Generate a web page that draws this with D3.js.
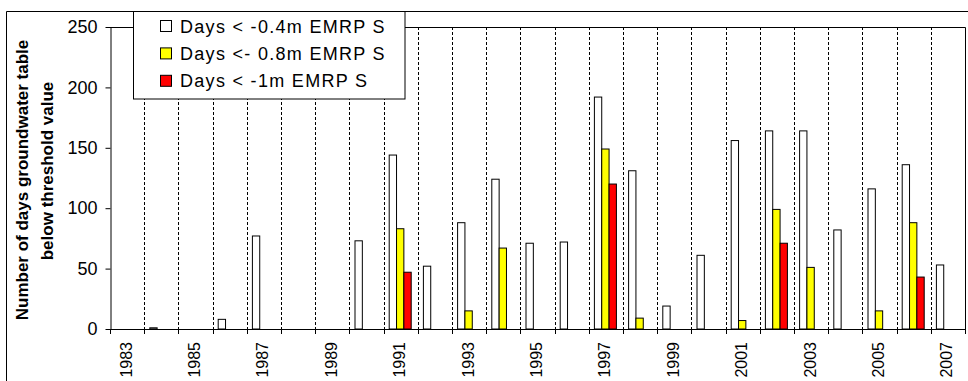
<!DOCTYPE html>
<html><head><meta charset="utf-8">
<script src="https://cdn.jsdelivr.net/npm/d3@7"></script>
<style>
html,body{margin:0;padding:0;background:#fff;}
svg{display:block;font-family:"Liberation Sans",Arial,sans-serif;}
</style></head>
<body><svg id="c" width="968" height="381"></svg>
<script>
const years = ["1983","1984","1985","1986","1987","1988","1989","1990","1991","1992","1993","1994","1995","1996","1997","1998","1999","2000","2001","2002","2003","2004","2005","2006","2007"];
const days04 = [0,1,0,8,77,0,0,73,144,52,88,124,71,72,192,131,19,61,156,164,164,82,116,136,53];
const days08 = [0,0,0,0,0,0,0,0,83,0,15,67,0,0,149,9,0,0,7,99,51,0,15,88,0];
const days10 = [0,0,0,0,0,0,0,0,47,0,0,0,0,0,120,0,0,0,0,71,0,0,0,43,0];
const seriesNames = ["Days < -0.4m EMRP S","Days <- 0.8m EMRP S","Days < -1m EMRP S"];
const seriesColors = ["#ffffff","#ffff00","#ff0000"];
const yTicks = [0,50,100,150,200,250];

const svg = d3.select("#c");
const L=110, R=965, T=27, B=329;
const x = d3.scaleBand().domain(years).range([L,R]).padding(0);
const x1 = d3.scaleBand().domain([0,1,2]).range([5.6,27.6]).padding(0);
const y = d3.scaleLinear().domain([0,250]).range([B,T]);

// outer frame
svg.append("path").attr("d","M6.5,390V11.5H975").attr("fill","none").attr("stroke","#000").attr("stroke-width",1);

// plot frame (top and right)
svg.append("path").attr("d",`M${L},${T+0.5}H${R+0.5}V${B}`).attr("fill","none").attr("stroke","#000").attr("stroke-width",1);

// dashed gridlines at category boundaries
const bounds = years.slice(1).map(d=>x(d));
svg.append("g").selectAll("line").data(bounds).join("line")
  .attr("x1",d=>Math.round(d)+0.5).attr("x2",d=>Math.round(d)+0.5)
  .attr("y1",T).attr("y2",B)
  .attr("stroke","#000").attr("stroke-width",1).attr("stroke-dasharray","3,2");

// bars
const series = [days04, days08, days10];
const gBars = svg.append("g");
series.forEach((vals,si)=>{
  gBars.selectAll(null).data(vals.map((v,i)=>({v,yr:years[i]})).filter(d=>d.v>0)).join("rect")
    .attr("x",d=>x(d.yr)+x1(si)).attr("width",x1.bandwidth())
    .attr("y",d=>y(d.v)).attr("height",d=>y(0)-y(d.v))
    .attr("fill",seriesColors[si]).attr("stroke","#000").attr("stroke-width",1);
});

// y axis
const ya = svg.append("g").attr("transform",`translate(${L+0.5},0)`)
  .call(d3.axisLeft(y).tickValues(yTicks).tickSize(5).tickPadding(8).tickSizeOuter(0));
ya.select(".domain").attr("stroke","#000");
ya.selectAll("text").attr("font-size",18).attr("fill","#000").attr("font-family","Liberation Sans, Arial, sans-serif");

// x axis with ticks at boundaries
const xg = svg.append("g");
xg.append("line").attr("x1",L).attr("x2",R+1).attr("y1",B+0.5).attr("y2",B+0.5).attr("stroke","#000");
const allB = years.map(d=>x(d)).concat([R]);
xg.selectAll("line.t").data(allB).join("line").attr("class","t")
  .attr("x1",d=>Math.round(d)+0.5).attr("x2",d=>Math.round(d)+0.5)
  .attr("y1",B).attr("y2",B+5).attr("stroke","#000");
xg.selectAll("text").data(years.filter((d,i)=>i%2===0)).join("text")
  .attr("transform",d=>`translate(${x(d)+x.bandwidth()/2+4.5},342) rotate(-90)`)
  .attr("text-anchor","end").attr("font-size",16).attr("fill","#000").text(d=>d);

// y title
svg.append("text").attr("transform","translate(28,180) rotate(-90)")
  .attr("text-anchor","middle").attr("font-size",17).attr("font-weight","bold").text("Number of days groundwater table");
svg.append("text").attr("transform","translate(53,171) rotate(-90)")
  .attr("text-anchor","middle").attr("font-size",17).attr("font-weight","bold").text("below threshold value");

// legend
const lg = svg.append("g");
lg.append("rect").attr("x",133.5).attr("y",11.5).attr("width",271.5).attr("height",87.5)
  .attr("fill","#fff").attr("stroke","#000");
seriesNames.forEach((n,i)=>{
  const cy = 26 + i*27.4;
  lg.append("rect").attr("x",160.5).attr("y",cy-5.5).attr("width",11).attr("height",11)
    .attr("fill",seriesColors[i]).attr("stroke","#000");
  lg.append("text").attr("x",180).attr("y",cy+6.5).attr("font-size",18).attr("letter-spacing",1.3)
    .attr("fill","#000").text(n);
});
</script></body></html>
